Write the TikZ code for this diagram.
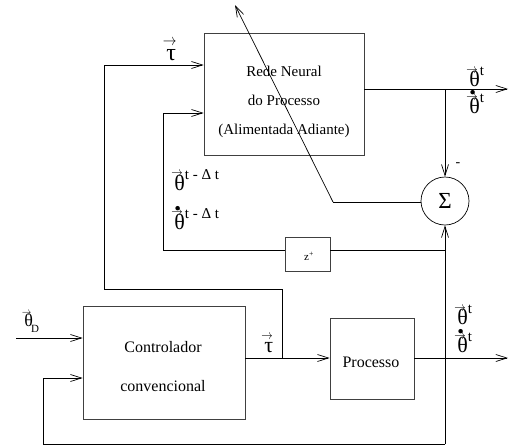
\documentclass[tikz,border=0pt]{standalone}
\usepackage{fontspec}
\setmainfont{Liberation Serif}
\usepackage{graphicx}
\usetikzlibrary{arrows.meta,calc}
\newcommand{\av}[1]{\ooalign{\raisebox{0.6em}{\kern-0.14em\scalebox{0.55}[0.65]{$\rightarrow$}}\cr#1\cr}}
\newcommand{\adv}[1]{\ooalign{\raisebox{0.6em}{\kern-0.14em\scalebox{0.55}[0.65]{$\rightarrow$}}\cr\raisebox{0.82em}{\kern0.02em\scalebox{0.55}{$\bullet$}}\cr#1\cr}}
\newcommand{\supt}[1]{\raisebox{0.48em}{\fontsize{15}{16}\selectfont #1}}
\begin{document}
\begin{tikzpicture}[x=1pt,y=-1pt,line width=0.7pt,
  >={Straight Barb[length=11pt,width=7pt,line width=0.7pt]},
  blk/.style={draw=black!75,rectangle,inner sep=0pt},
  txt/.style={inner sep=0pt,font=\fontsize{16}{18}\selectfont,align=center},
  lab/.style={inner sep=0pt,font=\fontsize{22}{24}\selectfont,anchor=west}]
\useasboundingbox (0,0) rectangle (513,447);
% blocks
\node[blk,minimum width=160pt,minimum height=122pt] (nn) at (284,94) {};
\node[txt,font=\fontsize{15}{29}\selectfont] (nnt) at (284,102) {Rede Neural\\do Processo\\(Alimentada Adiante)};
\node[blk,minimum width=162pt,minimum height=113pt] (ctl) at (164,362.5) {};
\node[txt,font=\fontsize{16}{39}\selectfont] (ctlt) at (163,367) {Controlador\\convencional};
\node[blk,minimum width=84pt,minimum height=81pt] (proc) at (372,358.5) {};
\node[txt] (proct) at (371,362) {Processo};
\node[blk,minimum width=45pt,minimum height=34pt] (z) at (307.5,254) {};
\node[txt,font=\fontsize{11}{13}\selectfont] (zt) at (309,256) {z\textsuperscript{+}};
\node[draw,circle,minimum size=48pt,inner sep=0pt,font=\fontsize{23}{24}\selectfont] (sig) at (445,201) {Σ};
% coordinates
\coordinate (tauA) at (104,65);
\coordinate (tauB) at (104,289);
\coordinate (tauC) at (282,289);
\coordinate (tauD) at (282,358);
\coordinate (zL) at (163,250);
\coordinate (zU) at (163,113);
\coordinate (zR) at (445,250);
\coordinate (nnO) at (445,89);
\coordinate (nnEnd) at (508,89);
\coordinate (pJ) at (445,358);
\coordinate (pEnd) at (508,358);
\coordinate (fbA) at (445,444);
\coordinate (fbB) at (43,444);
\coordinate (fbC) at (43,378);
\coordinate (sigL) at (333,202);
\coordinate (tip) at (235,5);
\coordinate (thD) at (16,338);
% connectors
\draw[->] (tauA) -- (nn.west |- tauA);
\draw (tauC) -- (tauB) -- (tauA);
\draw (tauC) -- (tauD);
\draw[->] (zU) -- (nn.west |- zU);
\draw (z.west |- zL) -- (zL) -- (zU);
\draw (z.east |- zR) -- (zR);
\draw[->] (nn.east |- nnO) -- (nnEnd);
\draw[->] (nnO) -- (sig.north);
\draw (sig.west |- sigL) -- (sigL);
\draw[->] (sigL) -- (tip);
\draw[->] (ctl.east |- tauD) -- (proc.west |- tauD);
\draw[->] (proc.east |- pJ) -- (pEnd);
\draw[->] (fbA) -- (sig.south);
\draw[->] (fbA) -- (fbB) -- (fbC) -- (ctl.west |- fbC);
\draw[->] (thD) -- (ctl.west |- thD);
% labels
\node[inner sep=0pt,font=\fontsize{14}{16}\selectfont] (minus) at (458,165) {-};
\node[lab,font=\fontsize{24}{26}\selectfont] (l1) at (166,50) {\av{τ}};
\node[lab,font=\fontsize{22}{24}\selectfont] (l2) at (264,344) {\av{τ}};
\node[lab] (l3) at (469,77) {\av{θ}\supt{t}};
\node[lab] (l4) at (469,104) {\adv{θ}\supt{t}};
\node[lab] (l5) at (174,180) {\av{θ}\supt{t - Δ t}};
\node[lab] (l6) at (174,219) {\adv{θ}\supt{t - Δ t}};
\node[lab] (l7) at (457,315) {\av{θ}\supt{t}};
\node[lab] (l8) at (457,343) {\adv{θ}\supt{t}};
\node[lab,font=\fontsize{18}{20}\selectfont] (l9) at (24,322) {\av{θ}\kern-0.1em\raisebox{-0.3em}{\fontsize{11}{12}\selectfont D}};
\end{tikzpicture}
\end{document}
